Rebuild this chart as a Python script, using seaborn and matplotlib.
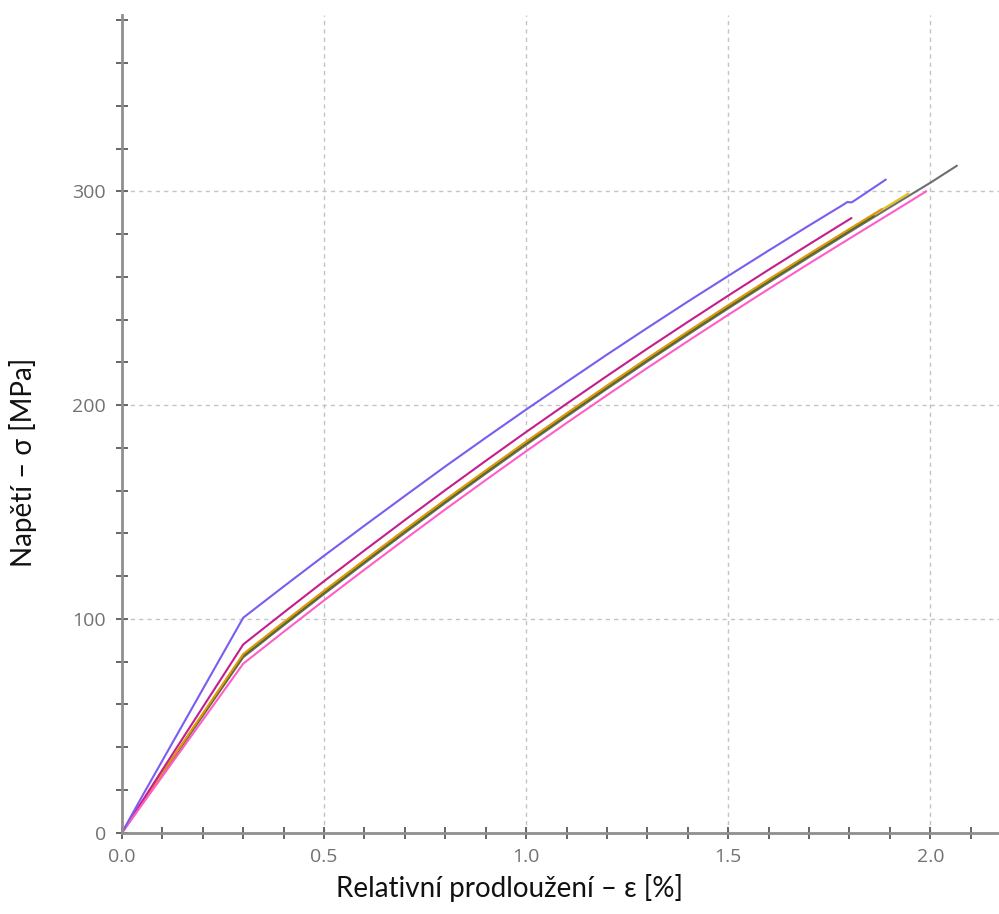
import matplotlib
matplotlib.use("Agg")
import matplotlib.pyplot as plt
from matplotlib.ticker import MultipleLocator, FormatStrFormatter
import pandas as pd
import seaborn as sns

# Stress-strain curves of the tested specimens: strain [%], stress [MPa]
spec_yellow_x = [0.0, 0.3, 0.4, 0.5, 0.6, 0.7, 0.8, 0.9, 1.0, 1.1, 1.2, 1.3, 1.4, 1.5, 1.6, 1.7, 1.8, 1.9, 1.946]
spec_yellow_y = [0.0, 83.2, 98.1, 112.8, 127.2, 141.4, 155.4, 169.1, 182.6, 195.8, 208.8, 221.6, 234.1, 246.4, 258.5, 270.4, 282.1, 293.7, 299.0]

spec_gray_x = [0.0, 0.3, 0.4, 0.5, 0.6, 0.7, 0.8, 0.9, 1.0, 1.1, 1.2, 1.3, 1.4, 1.5, 1.6, 1.7, 1.8, 1.9, 2.0, 2.066]
spec_gray_y = [0.0, 82.0, 96.9, 111.6, 126.0, 140.2, 154.2, 167.9, 181.4, 194.6, 207.6, 220.4, 232.9, 245.2, 257.3, 269.2, 280.9, 292.5, 304.0, 312.0]

spec_olive_x = [0.0, 0.3, 0.4, 0.5, 0.6, 0.7, 0.8, 0.9, 1.0, 1.1, 1.2, 1.3, 1.4, 1.5, 1.6, 1.7, 1.8, 1.86]
spec_olive_y = [0.0, 82.6, 97.5, 112.2, 126.6, 140.8, 154.8, 168.5, 182.0, 195.2, 208.2, 221.0, 233.5, 245.8, 257.9, 269.8, 281.5, 288.5]

spec_orange_x = [0.0, 0.3, 0.4, 0.5, 0.6, 0.7, 0.8, 0.9, 1.0, 1.1, 1.2, 1.3, 1.4, 1.5, 1.6, 1.7, 1.8, 1.88]
spec_orange_y = [0.0, 83.5, 98.4, 113.1, 127.5, 141.7, 155.7, 169.4, 182.9, 196.1, 209.1, 221.9, 234.4, 246.7, 258.8, 270.7, 282.4, 291.7]

spec_magenta_x = [0.0, 0.3, 0.4, 0.5, 0.6, 0.7, 0.8, 0.9, 1.0, 1.1, 1.2, 1.3, 1.4, 1.5, 1.6, 1.7, 1.805]
spec_magenta_y = [0.0, 88.0, 102.9, 117.6, 132.0, 146.2, 160.2, 173.9, 187.4, 200.6, 213.6, 226.4, 238.9, 251.2, 263.3, 275.2, 287.5]

spec_pink_x = [0.0, 0.3, 0.4, 0.5, 0.6, 0.7, 0.8, 0.9, 1.0, 1.1, 1.2, 1.3, 1.4, 1.5, 1.6, 1.7, 1.8, 1.9, 1.99]
spec_pink_y = [0.0, 79.0, 93.9, 108.6, 123.0, 137.2, 151.2, 164.9, 178.4, 191.6, 204.6, 217.4, 229.9, 242.2, 254.3, 266.2, 277.9, 289.5, 300.0]

spec_blue_x = [0.0, 0.05, 0.3, 0.4, 0.5, 0.6, 0.7, 0.8, 0.9, 1.0, 1.1, 1.2, 1.3, 1.4, 1.5, 1.6, 1.7, 1.78, 1.795, 1.805, 1.815, 1.89]
spec_blue_y = [0.0, 17.0, 100.5, 115.1, 129.5, 143.6, 157.5, 171.3, 184.7, 197.9, 210.8, 223.6, 236.1, 248.4, 260.4, 272.3, 284.0, 293.2, 295.0, 294.8, 296.0, 305.5]

series = [
    ("yellow", spec_yellow_x, spec_yellow_y),
    ("gray", spec_gray_x, spec_gray_y),
    ("olive", spec_olive_x, spec_olive_y),
    ("orange", spec_orange_x, spec_orange_y),
    ("magenta", spec_magenta_x, spec_magenta_y),
    ("pink", spec_pink_x, spec_pink_y),
    ("blue", spec_blue_x, spec_blue_y),
]
palette = {
    "yellow": "#E6C410",
    "gray": "#6E6E6E",
    "olive": "#4F6A2A",
    "orange": "#E0960A",
    "magenta": "#C41E8C",
    "pink": "#FF5CC8",
    "blue": "#7B5CF0",
}

frames = []
for name, xs, ys in series:
    frames.append(pd.DataFrame({"strain": xs, "stress": ys, "specimen": name}))
data = pd.concat(frames, ignore_index=True)

sns.set_theme(style="white")
plt.rcParams["font.family"] = ["Open Sans", "DejaVu Sans"]

fig = plt.figure(figsize=(9.99, 9.14), dpi=100)
ax = fig.add_axes([122 / 999, 1 - 832.5 / 914, 1 - 122 / 999, (832.5 - 15) / 914])

for name, _, _ in series:
    sub = data[data["specimen"] == name]
    sns.lineplot(data=sub, x="strain", y="stress", sort=False, ax=ax,
                 color=palette[name], linewidth=1.5, legend=False,
                 estimator=None)

ax.set_xlim(0, 2.17)
ax.set_ylim(0, 382.5)

ax.xaxis.set_major_locator(MultipleLocator(0.5))
ax.xaxis.set_minor_locator(MultipleLocator(0.1))
ax.yaxis.set_major_locator(MultipleLocator(100))
ax.yaxis.set_minor_locator(MultipleLocator(20))
ax.xaxis.set_major_formatter(FormatStrFormatter("%.1f"))
ax.yaxis.set_major_formatter(FormatStrFormatter("%d"))

ax.grid(True, which="major", color="#c4c4c4", linestyle=(0, (3, 3)), linewidth=1.0)
ax.set_axisbelow(True)

for side in ("top", "right"):
    ax.spines[side].set_visible(False)
for side in ("left", "bottom"):
    ax.spines[side].set_color("#8f8f8f")
    ax.spines[side].set_linewidth(2.0)

ax.tick_params(which="both", direction="inout", color="#5a5a5a", width=1.3,
               left=True, bottom=True)
ax.tick_params(which="major", length=9, labelsize=14, labelcolor="#727272", pad=7)
ax.tick_params(which="minor", length=8)

ax.set_xlabel("Relativní prodloužení – ε [%]", fontsize=20,
              family=["Lato", "DejaVu Sans"], color="#111111")
ax.set_ylabel("Napětí – σ [MPa]", fontsize=20,
              family=["Lato", "DejaVu Sans"], color="#111111")
ax.xaxis.set_label_coords(0.442, -0.051)
ax.yaxis.set_label_coords(-0.097, 0.453)

fig.savefig("out.png", dpi=100)
